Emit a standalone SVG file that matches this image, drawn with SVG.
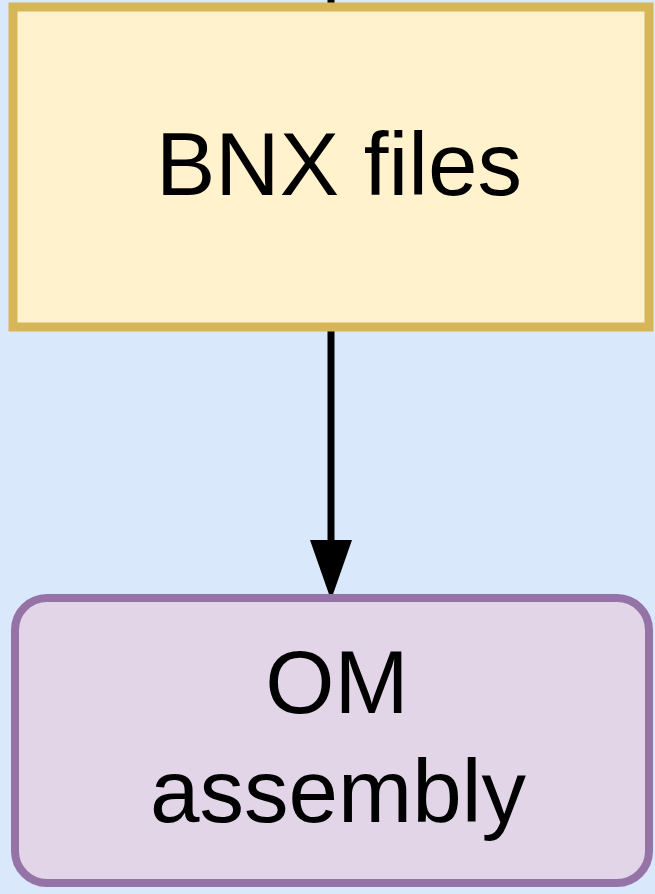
<svg xmlns="http://www.w3.org/2000/svg" width="655" height="894" viewBox="0 0 655 894">
  <defs>
    <style>
      .label { font-family: "Liberation Sans", Arial, sans-serif; font-size: 89px; fill: #000000; text-anchor: middle; }
      .edge { stroke: #000000; stroke-width: 7; fill: none; }
      .head { fill: #000000; }
    </style>
  </defs>
  <rect x="0" y="0" width="655" height="894" fill="#dae8fc"/>

  <g id="connectors">
    <line class="edge" x1="331" y1="0" x2="331" y2="8"/>
    <line class="edge" x1="331" y1="330" x2="331" y2="545"/>
    <path class="head" d="M310,540 L352,540 L331,600 Z"/>
  </g>

  <g id="node-bnx">
    <rect x="13" y="7" width="636" height="320" fill="#fff2cc" stroke="#d6b656" stroke-width="9"/>
    <text class="label" x="339" y="195">BNX files</text>
  </g>

  <g id="node-om">
    <rect x="15" y="598" width="634" height="285" rx="32" ry="32" fill="#e1d5e7" stroke="#9673a6" stroke-width="8"/>
    <text class="label" x="337" y="713">OM</text>
    <text class="label" x="338" y="822">assembly</text>
  </g>
</svg>
